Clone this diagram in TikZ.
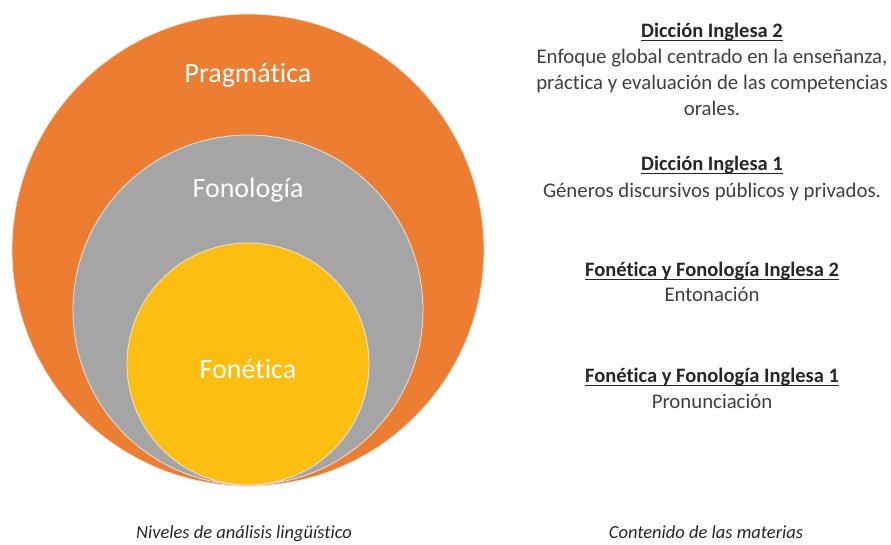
\documentclass[tikz,border=0pt]{standalone}
\usepackage{fontspec}
\setmainfont[Ligatures={NoCommon}]{Carlito}
\definecolor{orng}{HTML}{ED7D31}
\definecolor{gry}{HTML}{A5A5A5}
\definecolor{yllw}{HTML}{FDBE12}
\definecolor{txtdark}{HTML}{262626}
\definecolor{txtbody}{HTML}{3F3F3F}
\begin{document}
\begin{tikzpicture}[x=1pt,y=-1pt,
  level/.style={draw=white!90!black,line width=0.8pt},
  lvltext/.style={text=white,font=\fontsize{28}{32}\selectfont,anchor=base,inner sep=0pt},
  head/.style={text=txtdark,font=\fontsize{20.5}{24}\selectfont\bfseries,anchor=base,inner sep=0pt},
  body/.style={text=txtbody,font=\fontsize{20.8}{24}\selectfont,anchor=base,inner sep=0pt},
  caption/.style={text=txtdark,font=\fontsize{18.5}{22}\selectfont\itshape,anchor=base,inner sep=0pt},
  uline/.style={draw=txtdark,line width=1pt}]
\useasboundingbox (0,0) rectangle (891,544);
\fill[white] (0,0) rectangle (891,544);
% circles
\draw[level,fill=orng] (248,250) circle[radius=236];
\draw[level,fill=gry] (248,310) circle[radius=175];
\draw[level,fill=yllw] (248,364) circle[radius=121];
% level labels
\node[lvltext] (prag) at (248,82) {Pragmática};
\node[lvltext] (fonol) at (248,197) {Fonología};
\node[lvltext] (fonet) at (248,378) {Fonética};
% right column
\node[head] (d2) at (712,37) {Dicción Inglesa 2};
\node[body] (d2a) at (712,63) {Enfoque global centrado en la enseñanza,};
\node[body] (d2b) at (712,89) {práctica y evaluación de las competencias};
\node[body] (d2c) at (712,115) {orales.};
\node[head] (d1) at (712,170) {Dicción Inglesa 1};
\node[body] (d1a) at (712,197) {Géneros discursivos públicos y privados.};
\node[head] (f2) at (712,276) {Fonética y Fonología Inglesa 2};
\node[body] (f2a) at (712,301) {Entonación};
\node[head] (f1) at (712,382) {Fonética y Fonología Inglesa 1};
\node[body] (f1a) at (712,408) {Pronunciación};
\foreach \n in {d2,d1,f2,f1}{
  \draw[uline] ([yshift=-3pt]\n.base west) -- ([yshift=-3pt]\n.base east);
}
% captions
\node[caption] (capl) at (244,538) {Niveles de análisis lingüístico};
\node[caption] (capr) at (706,538) {Contenido de las materias};
\end{tikzpicture}
\end{document}
